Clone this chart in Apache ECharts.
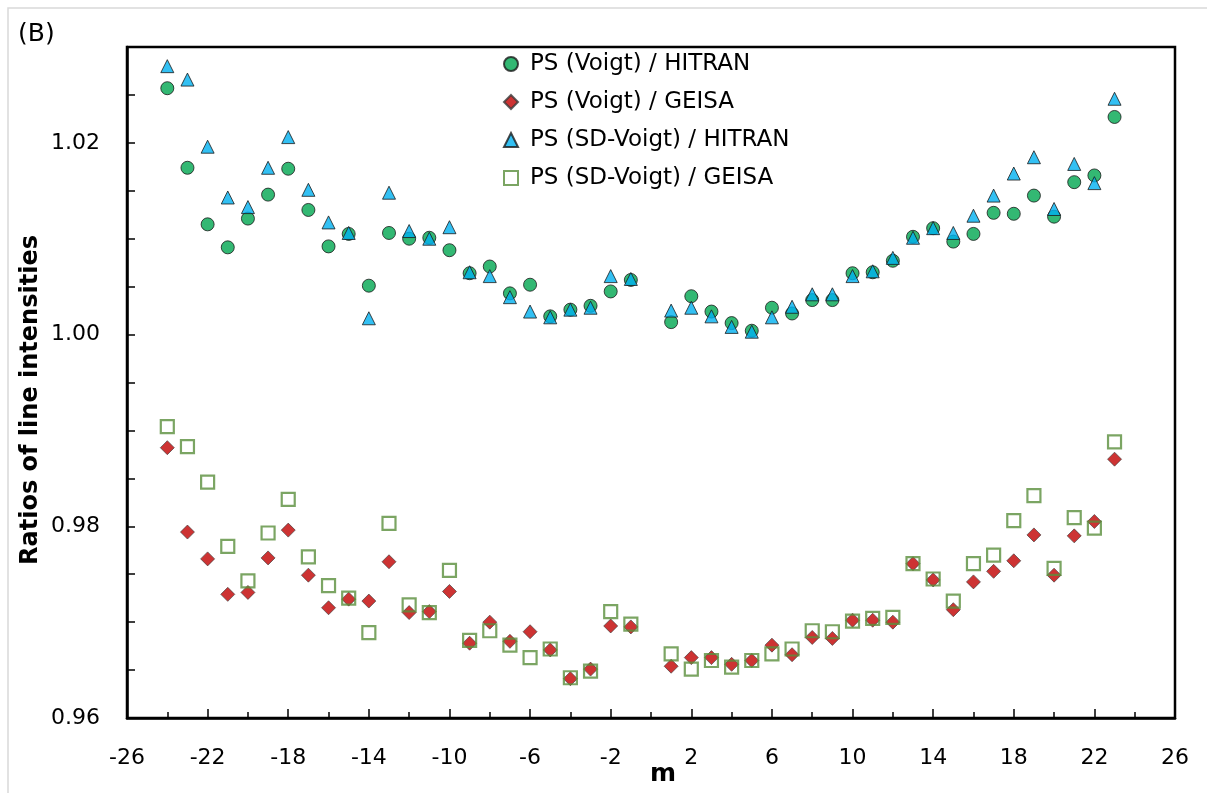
<!DOCTYPE html>
<html>
<head>
<meta charset="utf-8">
<script src="https://cdn.jsdelivr.net/npm/echarts@6/dist/echarts.min.js"></script>
<style>
  html, body { margin: 0; padding: 0; background: #fff; }
  #main { width: 1207px; height: 793px; }
</style>
</head>
<body>
<div id="main"></div>
<script>
// rotational quantum number m (no m = 0)
var mValues = [-24, -23, -22, -21, -20, -19, -18, -17, -16, -15, -14, -13, -12, -11, -10, -9, -8, -7, -6, -5, -4, -3, -2, -1,
  1, 2, 3, 4, 5, 6, 7, 8, 9, 10, 11, 12, 13, 14, 15, 16, 17, 18, 19, 20, 21, 22, 23];

var voigtHitran = [1.0257, 1.0174, 1.0115, 1.0091, 1.0121, 1.0146, 1.0173, 1.0130, 1.0092, 1.0105, 1.0051, 1.0106,
  1.0100, 1.0101, 1.0088, 1.0064, 1.0071, 1.0043, 1.0052, 1.0019, 1.0026, 1.0030, 1.0045, 1.0057,
  1.0013, 1.0040, 1.0024, 1.0012, 1.0004, 1.0028, 1.0022, 1.0036, 1.0036, 1.0064, 1.0065, 1.0077,
  1.0102, 1.0111, 1.0097, 1.0105, 1.0127, 1.0126, 1.0145, 1.0123, 1.0159, 1.0166, 1.0227];

var voigtGeisa = [0.9882, 0.9794, 0.9766, 0.9729, 0.9731, 0.9767, 0.9796, 0.9749, 0.9715, 0.9724, 0.9722, 0.9763,
  0.9710, 0.9711, 0.9732, 0.9678, 0.9700, 0.9680, 0.9690, 0.9671, 0.9641, 0.9651, 0.9696, 0.9695,
  0.9654, 0.9663, 0.9663, 0.9656, 0.9660, 0.9676, 0.9666, 0.9684, 0.9683, 0.9702, 0.9702, 0.9700,
  0.9761, 0.9744, 0.9713, 0.9742, 0.9753, 0.9764, 0.9791, 0.9749, 0.9790, 0.9805, 0.9870];

var sdHitran = [1.0280, 1.0266, 1.0196, 1.0143, 1.0133, 1.0174, 1.0206, 1.0151, 1.0117, 1.0106, 1.0017, 1.0148,
  1.0108, 1.0100, 1.0112, 1.0065, 1.0061, 1.0039, 1.0024, 1.0018, 1.0026, 1.0028, 1.0061, 1.0058,
  1.0025, 1.0028, 1.0019, 1.0008, 1.0003, 1.0018, 1.0029, 1.0042, 1.0042, 1.0061, 1.0066, 1.0080,
  1.0101, 1.0111, 1.0106, 1.0124, 1.0145, 1.0168, 1.0185, 1.0131, 1.0178, 1.0158, 1.0246];

var sdGeisa = [0.9904, 0.9883, 0.9846, 0.9779, 0.9743, 0.9793, 0.9828, 0.9768, 0.9738, 0.9725, 0.9689, 0.9803,
  0.9718, 0.9710, 0.9754, 0.9681, 0.9691, 0.9676, 0.9663, 0.9672, 0.9642, 0.9649, 0.9711, 0.9698,
  0.9667, 0.9651, 0.9660, 0.9653, 0.9660, 0.9667, 0.9672, 0.9691, 0.9690, 0.9701, 0.9704, 0.9705,
  0.9761, 0.9745, 0.9722, 0.9761, 0.9770, 0.9806, 0.9832, 0.9756, 0.9809, 0.9798, 0.9888];

var xTickLabels = [-26, -22, -18, -14, -10, -6, -2, 2, 6, 10, 14, 18, 22, 26];
var yTickLabels = [0.96, 0.98, 1.00, 1.02];

function pairs(ys) {
  return mValues.map(function (m, i) { return [m, ys[i]]; });
}

var fontName = 'DejaVu Sans';

var myChart = echarts.init(document.getElementById('main'));
var option = {
  backgroundColor: '#fff',
  animation: false,
  textStyle: { fontFamily: fontName },
  graphic: [
    { type: 'rect', shape: { x: 8, y: 8, width: 1220, height: 800 }, style: { fill: 'none', stroke: '#d9d9d9', lineWidth: 1.5 }, silent: true },
    { type: 'text', left: 18, top: 22, style: { text: '(B)', font: '25px ' + fontName, fill: '#000' } },
    { type: 'text', x: 31, y: 400, rotation: Math.PI / 2,
      style: { text: 'Ratios of line intensities', font: 'bold 24px ' + fontName, fill: '#000', align: 'center', verticalAlign: 'middle' } },
    { type: 'text', x: 663, y: 774,
      style: { text: 'm', font: 'bold 25px ' + fontName, fill: '#000', align: 'center', verticalAlign: 'middle' } }
  ],
  legend: {
    orient: 'vertical',
    left: 498,
    top: 47,
    itemWidth: 14,
    itemHeight: 14,
    itemGap: 14,
    textStyle: { fontSize: 23, lineHeight: 24, color: '#000', fontFamily: fontName, padding: [0, 0, 0, 7] },
    data: ['PS (Voigt) / HITRAN', 'PS (Voigt) / GEISA', 'PS (SD-Voigt) / HITRAN', 'PS (SD-Voigt) / GEISA']
  },
  grid: {
    left: 127,
    right: 32,
    top: 47,
    bottom: 75,
    show: true,
    borderColor: '#000',
    borderWidth: 2.5
  },
  xAxis: [
    {
      type: 'value',
      min: -26,
      max: 26,
      interval: 2,
      axisLine: { show: true, onZero: false, lineStyle: { color: '#000', width: 2.5 } },
      axisTick: { show: true, inside: true, length: 9, lineStyle: { color: '#000', width: 1.5 }, customValues: xTickLabels },
      axisLabel: { customValues: xTickLabels, margin: 29, fontSize: 22, color: '#000', fontFamily: fontName },
      splitLine: { show: false }
    },
    {
      type: 'value',
      min: -26,
      max: 26,
      interval: 2,
      position: 'bottom',
      axisLine: { show: false, onZero: false },
      axisTick: { show: true, inside: true, length: 6, lineStyle: { color: '#000', width: 1.5 } },
      axisLabel: { show: false },
      splitLine: { show: false }
    }
  ],
  yAxis: {
    type: 'value',
    min: 0.96,
    max: 1.03,
    interval: 0.005,
    axisLine: { show: true, onZero: false, lineStyle: { color: '#000', width: 2.5 } },
    axisTick: { show: true, inside: true, length: 8, lineStyle: { color: '#000', width: 1.5 } },
    axisLabel: {
      customValues: yTickLabels,
      margin: 27,
      fontSize: 22,
      color: '#000',
      fontFamily: fontName,
      formatter: function (v) { return v.toFixed(2); }
    },
    splitLine: { show: false }
  },
  series: [
    {
      name: 'PS (Voigt) / HITRAN',
      type: 'scatter',
      symbol: 'circle',
      symbolSize: 13,
      itemStyle: { color: '#00A650', borderColor: '#1a1a1a', borderWidth: 1 },
      data: pairs(voigtHitran)
    },
    {
      name: 'PS (Voigt) / GEISA',
      type: 'scatter',
      symbol: 'diamond',
      symbolSize: 14,
      itemStyle: { color: '#C00000', borderColor: '#3a3a3a', borderWidth: 0.8 },
      data: pairs(voigtGeisa)
    },
    {
      name: 'PS (SD-Voigt) / HITRAN',
      type: 'scatter',
      symbol: 'triangle',
      symbolSize: 13,
      itemStyle: { color: '#00B0F0', borderColor: '#1a1a1a', borderWidth: 1 },
      data: pairs(sdHitran)
    },
    {
      name: 'PS (SD-Voigt) / GEISA',
      type: 'scatter',
      symbol: 'rect',
      symbolSize: 13,
      itemStyle: { color: 'rgba(255,255,255,0)', borderColor: '#5A8E3C', borderWidth: 2.2 },
      data: pairs(sdGeisa)
    }
  ]
};

myChart.setOption(option);
</script>
</body>
</html>
